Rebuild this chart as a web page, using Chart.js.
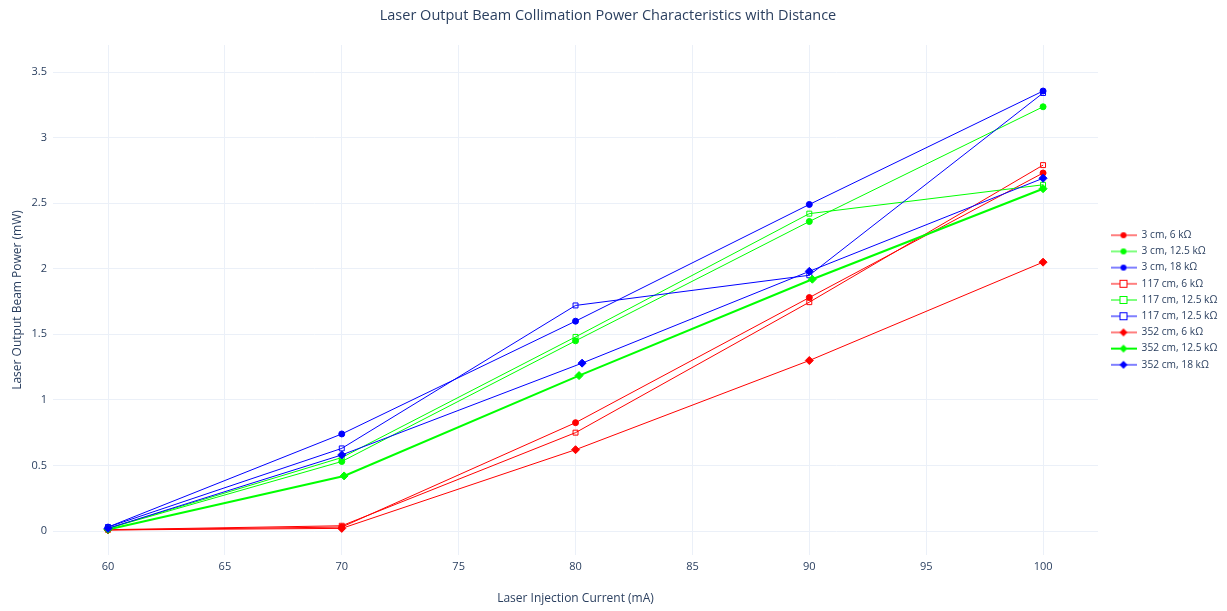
<!DOCTYPE html>
<html><head><meta charset="utf-8">
<script src="https://cdn.jsdelivr.net/npm/chart.js@4.4.1/dist/chart.umd.min.js"></script>
<style>html,body{margin:0;padding:0;background:#fff}#wrap{width:1227px;height:611px}</style>
</head><body><div id="wrap"><canvas id="c" width="1227" height="611"></canvas></div>
<script>
const currents = [60, 70, 80, 90, 100];
const xTicks = [60, 65, 70, 75, 80, 85, 90, 95, 100];
const yTicks = [0, 0.5, 1, 1.5, 2, 2.5, 3, 3.5];
const seriesNames = ["3 cm, 6 kΩ","3 cm, 12.5 kΩ","3 cm, 18 kΩ","117 cm, 6 kΩ","117 cm, 12.5 kΩ","117 cm, 12.5 kΩ","352 cm, 6 kΩ","352 cm, 12.5 kΩ","352 cm, 18 kΩ"];
const s3cm6 = [0.008, 0.03, 0.826, 1.78, 2.73];
const s3cm12 = [0.02, 0.53, 1.45, 2.36, 3.235];
const s3cm18 = [0.03, 0.74, 1.60, 2.49, 3.355];
const s117cm6 = [0.01, 0.04, 0.75, 1.745, 2.79];
const s117cm12a = [0.02, 0.56, 1.48, 2.42, 2.64];
const s117cm12b = [0.03, 0.63, 1.72, 1.95, 3.34];
const s352cm6 = [0.008, 0.02, 0.62, 1.30, 2.05];
const s352cm12 = [0.012, 0.42, 1.185, 1.92, 2.61];
const s352cm18 = [0.02, 0.58, 1.28, 1.98, 2.69];
const x352cm12 = [60, 70.1, 80.15, 90.13, 100];
const x352cm18 = [60, 70, 80.28, 90, 100];

const RED = '#ff0000', GREEN = '#00ff00', BLUE = '#0000ff';
const specs = [
  {y: s3cm6, x: currents, c: RED, m: 'circle', w: 1},
  {y: s3cm12, x: currents, c: GREEN, m: 'circle', w: 1},
  {y: s3cm18, x: currents, c: BLUE, m: 'circle', w: 1},
  {y: s117cm6, x: currents, c: RED, m: 'square', w: 1},
  {y: s117cm12a, x: currents, c: GREEN, m: 'square', w: 1},
  {y: s117cm12b, x: currents, c: BLUE, m: 'square', w: 1},
  {y: s352cm6, x: currents, c: RED, m: 'diamond', w: 1},
  {y: s352cm12, x: x352cm12, c: GREEN, m: 'diamond', w: 2},
  {y: s352cm18, x: x352cm18, c: BLUE, m: 'diamond', w: 1}
];
const FONT = '"Open Sans", "Noto Sans", sans-serif';
const TXT = '#2a3f5f';

function legendIcon(sp) {
  const cv = document.createElement('canvas');
  cv.width = 26; cv.height = 12;
  const g = cv.getContext('2d');
  g.strokeStyle = sp.c; g.lineWidth = sp.w;
  g.beginPath(); g.moveTo(0, 6); g.lineTo(26, 6); g.stroke();
  g.fillStyle = sp.c; g.lineWidth = 1;
  if (sp.m === 'circle') { g.beginPath(); g.arc(13, 6, 3, 0, Math.PI*2); g.fill(); }
  else if (sp.m === 'square') { g.fillStyle = '#fff'; g.fillRect(9.5, 2.5, 7, 7); g.strokeRect(9.5, 2.5, 7, 7); }
  else { g.beginPath(); g.moveTo(13, 2); g.lineTo(17, 6); g.lineTo(13, 10); g.lineTo(9, 6); g.closePath(); g.fill(); }
  return cv;
}

const datasets = specs.map((sp, i) => ({
  label: seriesNames[i],
  data: sp.x.map((xv, k) => ({x: xv, y: sp.y[k]})),
  borderColor: sp.c,
  backgroundColor: sp.m === 'square' ? 'rgba(255,255,255,0)' : sp.c,
  pointBorderColor: sp.c,
  pointBackgroundColor: sp.m === 'square' ? 'rgba(255,255,255,0)' : sp.c,
  pointStyle: sp.m === 'circle' ? 'circle' : (sp.m === 'square' ? 'rect' : 'rectRot'),
  pointRadius: sp.m === 'circle' ? 3 : (sp.m === 'square' ? 3.5 : 4),
  pointBorderWidth: 1,
  borderWidth: sp.w,
  tension: 0,
  order: 20 - i,
  _icon: legendIcon(sp)
}));

const titlePlugin = {
  id: 'plotTitle',
  afterDraw(chart) {
    const ctx = chart.ctx;
    ctx.save();
    ctx.font = '14.5px ' + FONT;
    ctx.fillStyle = TXT;
    ctx.textAlign = 'center';
    ctx.textBaseline = 'middle';
    ctx.fillText('Laser Output Beam Collimation Power Characteristics with Distance', 608, 16);
    ctx.restore();
  }
};
const legendWidthPlugin = {
  id: 'legendWidth',
  afterInit(chart) {
    const lg = chart.legend;
    if (!lg) return;
    const orig = lg.fit.bind(lg);
    lg.fit = function() { orig(); this.width = 129; };
  },
  afterLayout(chart) {
    const lg = chart.legend;
    if (!lg) return;
    lg.left += 6.5; lg.right += 6.5;
  }
};

new Chart(document.getElementById('c'), {
  type: 'line',
  data: {datasets},
  options: {
    responsive: false,
    animation: false,
    layout: {padding: {top: 45, left: 0, right: 0, bottom: 0}},
    plugins: {
      title: {display: false},
      tooltip: {enabled: false},
      legend: {
        position: 'right',
        align: 'center',
        fullSize: false,
        labels: {
          usePointStyle: true,
          pointStyleWidth: 26,
          padding: 6,
          color: TXT,
          font: {family: FONT, size: 10.2},
          generateLabels(chart) {
            return chart.data.datasets.map((ds, i) => ({
              text: ds.label, fillStyle: ds.borderColor, strokeStyle: ds.borderColor,
              lineWidth: 0, pointStyle: ds._icon, hidden: false, datasetIndex: i, fontColor: TXT
            }));
          }
        }
      }
    },
    scales: {
      x: {
        type: 'linear',
        min: 57.647, max: 102.35,
        afterBuildTicks(s) { s.ticks = xTicks.map(v => ({value: v})); },
        afterFit(s) { s.height = 56; s.paddingLeft = 0; s.paddingRight = 0; },
        grid: {color: '#ebf0f8', lineWidth: 1, drawTicks: false},
        border: {display: false},
        ticks: {color: TXT, font: {family: FONT, size: 11}, padding: 5, maxRotation: 0},
        title: {display: true, text: 'Laser Injection Current (mA)', color: TXT, font: {family: FONT, size: 12}, padding: {top: 0, bottom: 5}}
      },
      y: {
        type: 'linear',
        min: -0.183, max: 3.706,
        afterBuildTicks(s) { s.ticks = yTicks.map(v => ({value: v})); },
        afterFit(s) { s.width = 53; s.paddingTop = 0; s.paddingBottom = 0; },
        grid: {color: '#ebf0f8', lineWidth: 1, drawTicks: false},
        border: {display: false},
        ticks: {color: TXT, font: {family: FONT, size: 11}, padding: 6, callback: v => String(v)},
        title: {display: true, text: 'Laser Output Beam Power (mW)', color: TXT, font: {family: FONT, size: 12}, padding: {top: 10, bottom: 0}}
      }
    }
  },
  plugins: [titlePlugin, legendWidthPlugin]
});
</script>
</body></html>
